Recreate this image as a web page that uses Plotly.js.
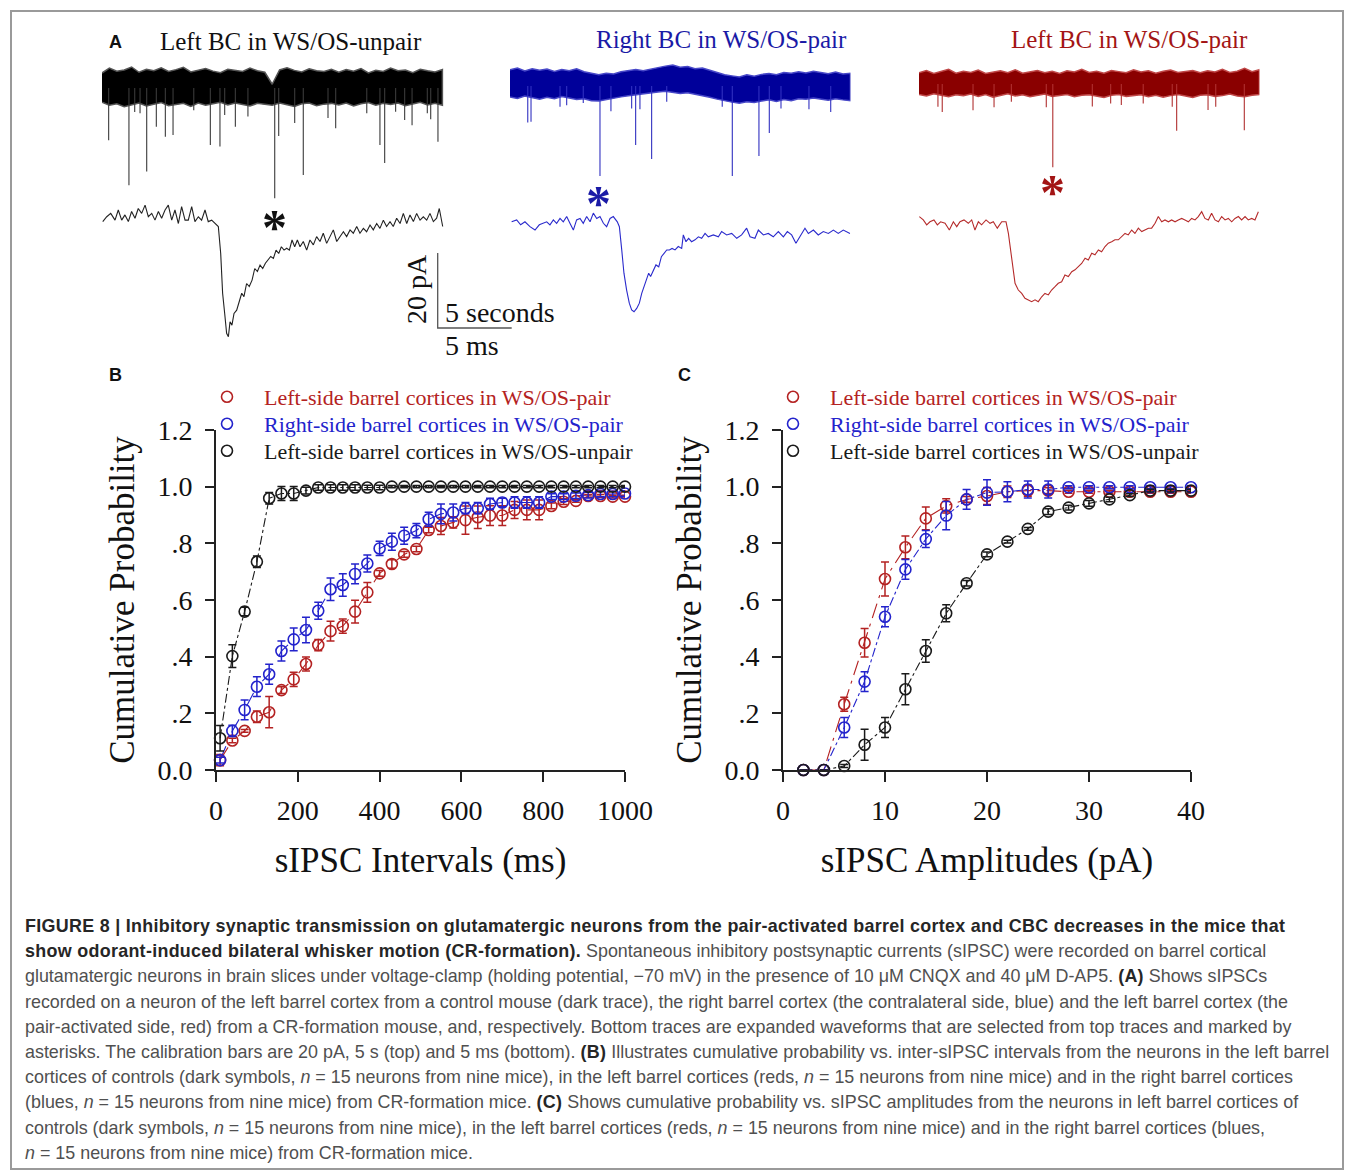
<!DOCTYPE html>
<html><head><meta charset="utf-8">
<script src="https://cdn.plot.ly/plotly-3.0.1.min.js"></script>
<style>
body{margin:0;background:#fff;}
#plot{position:absolute;left:0;top:0;width:1354px;height:900px;}
#frame{position:absolute;left:10px;top:10px;width:1334px;height:1160px;border:2px solid #9a9a9a;box-sizing:border-box;pointer-events:none;z-index:5;}
#cap{position:absolute;left:25px;top:914px;font-family:"Liberation Sans",Arial,sans-serif;font-size:17.9px;line-height:25.2px;color:#505050;white-space:nowrap;z-index:4;}
#cap b{color:#262626;letter-spacing:0.3px;}
</style></head><body>
<div id="plot"></div>
<div id="frame"></div>
<div id="cap">
<b>FIGURE 8 | Inhibitory synaptic transmission on glutamatergic neurons from the pair-activated barrel cortex and CBC decreases in the mice that</b><br>
<b>show odorant-induced bilateral whisker motion (CR-formation).</b> Spontaneous inhibitory postsynaptic currents (sIPSC) were recorded on barrel cortical<br>
glutamatergic neurons in brain slices under voltage-clamp (holding potential, −70 mV) in the presence of 10 μM CNQX and 40 μM D-AP5. <b>(A)</b> Shows sIPSCs<br>
recorded on a neuron of the left barrel cortex from a control mouse (dark trace), the right barrel cortex (the contralateral side, blue) and the left barrel cortex (the<br>
pair-activated side, red) from a CR-formation mouse, and, respectively. Bottom traces are expanded waveforms that are selected from top traces and marked by<br>
asterisks. The calibration bars are 20 pA, 5 s (top) and 5 ms (bottom). <b>(B)</b> Illustrates cumulative probability vs. inter-sIPSC intervals from the neurons in the left barrel<br>
cortices of controls (dark symbols, <i>n</i> = 15 neurons from nine mice), in the left barrel cortices (reds, <i>n</i> = 15 neurons from nine mice) and in the right barrel cortices<br>
(blues, <i>n</i> = 15 neurons from nine mice) from CR-formation mice. <b>(C)</b> Shows cumulative probability vs. sIPSC amplitudes from the neurons in left barrel cortices of<br>
controls (dark symbols, <i>n</i> = 15 neurons from nine mice), in the left barrel cortices (reds, <i>n</i> = 15 neurons from nine mice) and in the right barrel cortices (blues,<br>
<i>n</i> = 15 neurons from nine mice) from CR-formation mice.
</div>
<script>
// ---------- Panel B: cumulative probability vs sIPSC intervals ----------
const intervalsMs = [10,40,70,100,130,160,190,220,250,280,310,340,370,400,430,460,490,520,550,580,610,640,670,700,730,760,790,820,850,880,910,940,970,1000];
const probLeftPairB = [0.035,0.104,0.138,0.188,0.204,0.282,0.320,0.374,0.441,0.490,0.508,0.559,0.627,0.694,0.727,0.761,0.780,0.847,0.861,0.874,0.882,0.892,0.898,0.898,0.918,0.918,0.918,0.932,0.947,0.950,0.967,0.967,0.965,0.965];
const errLeftPairB = [0.020,0.008,0.005,0.020,0.055,0.012,0.025,0.025,0.020,0.035,0.025,0.040,0.035,0.010,0.015,0.010,0.010,0.010,0.030,0.020,0.050,0.040,0.035,0.035,0.030,0.035,0.035,0.010,0.010,0.005,0.005,0.005,0.005,0.005];
const probRightPairB = [0.035,0.138,0.212,0.294,0.338,0.420,0.461,0.494,0.562,0.638,0.653,0.692,0.729,0.782,0.806,0.827,0.845,0.885,0.904,0.909,0.924,0.924,0.939,0.944,0.944,0.944,0.944,0.965,0.965,0.968,0.970,0.974,0.974,0.976];
const errRightPairB = [0.010,0.020,0.035,0.035,0.035,0.035,0.040,0.045,0.030,0.040,0.040,0.035,0.030,0.025,0.030,0.030,0.025,0.025,0.035,0.030,0.020,0.020,0.020,0.015,0.020,0.020,0.020,0.010,0.010,0.010,0.010,0.010,0.010,0.010];
const probLeftUnpairB = [0.112,0.402,0.559,0.735,0.959,0.976,0.976,0.986,0.997,0.997,0.997,0.997,0.997,0.997,1.000,1.000,1.000,1.000,1.000,1.000,1.000,1.000,1.000,1.000,1.000,1.000,1.000,1.000,1.000,1.000,1.000,1.000,1.000,1.000];
const errLeftUnpairB = [0.045,0.040,0.015,0.020,0.020,0.025,0.025,0.012,0.010,0.010,0.010,0.010,0.008,0.008,0.004,0.004,0.004,0.004,0.004,0.004,0.004,0.004,0.004,0.004,0.004,0.004,0.004,0.004,0.004,0.004,0.004,0.004,0.004,0.004];

// ---------- Panel C: cumulative probability vs sIPSC amplitudes ----------
const amplitudesPA = [2,4,6,8,10,12,14,16,18,20,22,24,26,28,30,32,34,36,38,40];
const probLeftPairC = [0,0,0.232,0.449,0.674,0.786,0.888,0.932,0.955,0.967,0.982,0.986,0.986,0.982,0.982,0.982,0.982,0.982,0.982,0.982];
const errLeftPairC = [0,0,0.025,0.050,0.060,0.040,0.040,0.025,0.010,0.030,0.020,0.020,0.010,0.005,0.005,0.005,0.005,0.005,0.005,0.005];
const probRightPairC = [0,0,0.150,0.312,0.541,0.708,0.815,0.898,0.955,0.979,0.982,0.990,0.990,0.998,0.998,0.998,0.998,0.998,0.998,0.998];
const errRightPairC = [0,0,0.035,0.035,0.035,0.035,0.030,0.050,0.035,0.045,0.035,0.030,0.030,0.005,0.005,0.005,0.005,0.005,0.005,0.005];
const probLeftUnpairC = [0,0,0.014,0.089,0.150,0.285,0.420,0.553,0.659,0.761,0.806,0.851,0.912,0.926,0.941,0.955,0.970,0.986,0.986,0.986];
const errLeftUnpairC = [0,0,0.005,0.055,0.035,0.055,0.040,0.030,0.010,0.008,0.005,0.005,0.010,0.008,0.010,0.008,0.005,0.005,0.005,0.005];

const legendNames = ['Left-side barrel cortices in WS/OS-pair','Right-side barrel cortices in WS/OS-pair','Left-side barrel cortices in WS/OS-unpair'];
const yTickVals = [0,0.2,0.4,0.6,0.8,1.0,1.2];
const yTickText = ['0.0','.2','.4','.6','.8','1.0','1.2'];
const xTickValsB = [0,200,400,600,800,1000];
const xTickValsC = [0,10,20,30,40];

// ---------- Panel A: top traces (seconds, pA) ----------
const bandTimeS = [0,0.5,1,1.5,2,2.5,3,3.5,4,4.5,5,5.5,6,6.5,7,7.5,8,8.5,9,9.5,10,10.5,11,11.5,12,12.5,13,13.5,14,14.5,15,15.5,16,16.5,17,17.5,18,18.5,19,19.5,20,20.5,21,21.5,22,22.5,23];
const noiseUpperBlack = [4.0,5.3,4.5,4.8,5.6,4.2,5.0,4.6,5.4,4.4,4.9,5.5,4.3,4.8,5.2,4.5,4.1,5.0,4.7,4.4,5.3,4.6,4.2,1.0,4.8,5.4,4.7,4.3,5.1,4.6,4.4,5.0,4.2,4.9,4.5,5.2,4.0,4.7,4.4,5.3,4.6,4.8,4.1,5.0,4.6,4.3,4.9];
const noiseLowerBlack = [-3.8,-4.6,-4.2,-5.0,-4.4,-4.0,-4.8,-4.3,-3.9,-4.7,-4.5,-4.1,-4.9,-4.0,-4.6,-4.2,-3.8,-4.5,-4.0,-4.4,-4.8,-4.1,-4.3,-4.6,-4.0,-4.4,-4.9,-4.2,-4.0,-4.7,-4.3,-4.1,-4.5,-4.0,-4.8,-4.2,-3.9,-4.6,-4.1,-4.4,-4.0,-4.7,-4.2,-3.8,-4.5,-4.1,-4.6];
const noiseUpperBlue = [4.3,4.8,4.0,4.6,4.2,4.5,3.9,4.4,4.1,4.6,3.8,3.5,3.0,3.4,3.2,3.8,4.0,4.4,4.1,4.6,4.9,5.3,5.6,5.0,5.2,4.6,4.8,4.2,3.6,3.0,2.7,2.4,3.0,2.6,3.1,3.3,3.0,3.6,3.4,3.8,3.5,3.9,3.6,3.3,3.7,3.2,3.4];
const noiseLowerBlue = [-2.9,-3.3,-2.7,-3.1,-3.5,-3.0,-3.4,-2.8,-3.2,-3.6,-3.4,-3.9,-4.0,-3.6,-3.3,-2.9,-2.6,-2.4,-2.0,-1.8,-1.6,-1.4,-1.7,-2.0,-1.8,-2.3,-2.6,-3.0,-3.5,-4.0,-4.3,-4.6,-4.2,-4.4,-4.0,-3.7,-4.1,-3.6,-3.9,-3.4,-3.5,-3.2,-3.6,-3.8,-3.4,-3.7,-3.9];
const noiseUpperRed = [3.0,3.6,2.8,3.3,3.9,2.9,3.4,3.1,3.7,2.8,3.2,3.5,3.0,3.8,2.9,3.3,3.6,3.0,3.4,2.8,3.5,3.2,3.9,3.1,3.4,2.9,3.6,3.3,3.0,3.8,3.2,3.5,2.9,3.4,3.7,3.1,3.3,3.6,3.0,3.5,3.2,3.9,3.1,3.4,4.2,3.3,3.8];
const noiseLowerRed = [-2.8,-3.2,-2.6,-3.0,-3.4,-2.9,-3.1,-2.7,-3.3,-2.8,-3.5,-3.0,-2.6,-3.2,-2.9,-3.4,-3.0,-2.7,-3.3,-3.1,-2.8,-3.4,-3.0,-2.9,-3.2,-3.6,-3.0,-2.8,-3.3,-3.1,-2.9,-3.4,-3.0,-3.5,-3.1,-2.8,-3.2,-3.6,-3.0,-2.9,-3.3,-3.1,-2.7,-3.2,-3.4,-3.0,-2.8];
const spikeTimesBlackS = [0.45,1.82,2.21,2.57,3.02,3.67,4.28,4.80,6.20,7.32,7.97,8.29,9.01,9.86,11.67,11.94,13.02,13.60,15.27,15.79,17.89,18.78,19.10,19.84,20.45,20.95,21.98,22.21,22.70];
const spikeAmpBlackPA = [-13.9,-25.9,-6.4,-6.7,-22.3,-10.3,-13.0,-12.5,-5.9,-15.2,-15.6,-7.2,-10.3,-7.6,-29.4,-12.8,-9.3,-23.2,-8.0,-10.7,-6.7,-15.2,-20.0,-6.3,-8.5,-9.9,-6.7,-8.3,-14.3];
const spikeTimesBlueS = [1.20,1.42,3.38,3.83,4.95,6.08,6.82,8.22,8.49,8.78,9.57,10.59,14.34,15.02,16.82,17.52,18.31,20.20,21.67];
const spikeAmpBluePA = [-9.7,-9.5,-5.5,-5.1,-4.5,-24.0,-6.7,-6.0,-15.7,-6.2,-19.5,-4.2,-5.5,-24.0,-18.7,-12.5,-6.0,-6.2,-6.9];
const spikeTimesRedS = [1.28,1.57,3.65,5.07,6.24,8.60,9.04,11.71,12.95,13.67,15.15,17.11,17.41,19.53,20.05,21.98];
const spikeAmpRedPA = [-6.1,-7.5,-7.0,-6.2,-4.7,-6.2,-22.2,-6.0,-5.2,-5.6,-5.2,-6.1,-12.5,-6.9,-6.1,-12.3];

// ---------- Panel A: expanded waveforms (ms, pA) ----------
const evokedTimeBlackMs = [0.05,0.32,0.59,0.88,1.10,1.33,1.55,1.78,2.00,2.23,2.45,2.68,2.91,3.13,3.36,3.58,3.81,4.03,4.26,4.48,4.71,4.93,5.16,5.38,5.61,5.83,6.06,6.28,6.51,6.73,6.96,7.18,7.41,7.64,7.86,8.02,8.15,8.29,8.42,8.54,8.65,8.78,8.92,9.10,9.28,9.44,9.59,9.77,9.95,10.14,10.32,10.50,10.68,10.86,11.04,11.22,11.40,11.58,11.76,11.94,12.12,12.30,12.48,12.66,12.84,13.02,13.20,13.38,13.60,13.83,14.05,14.28,14.50,14.73,14.95,15.18,15.41,15.63,15.86,16.08,16.31,16.53,16.76,16.98,17.21,17.43,17.66,17.88,18.11,18.33,18.56,18.78,19.01,19.23,19.46,19.68,19.91,20.14,20.36,20.59,20.81,21.04,21.26,21.49,21.71,21.94,22.16,22.39,22.61,22.79,23.02];
const evokedBlackPA = [-2.3,-1.0,-0.1,-1.9,0.8,-1.9,-0.5,-2.3,0.4,-1.4,1.2,-0.1,2.1,-1.0,-0.1,-1.9,0.4,-1.4,0.8,2.1,-1.9,0.8,-2.8,1.7,-1.9,-1.9,1.7,-2.3,-1.0,-1.9,0.8,-2.3,-1.9,-2.8,-3.6,-10.8,-21.4,-26.8,-32.1,-33.0,-29.0,-29.9,-26.8,-25.9,-23.6,-21.4,-22.3,-18.8,-19.6,-17.9,-14.8,-15.6,-13.9,-14.8,-13.4,-12.5,-11.6,-12.1,-9.9,-10.8,-9.0,-9.9,-9.4,-9.9,-7.2,-9.0,-7.2,-9.0,-7.6,-9.9,-7.2,-8.5,-6.3,-7.6,-5.4,-8.1,-6.3,-4.5,-7.6,-6.3,-5.0,-6.3,-4.5,-5.4,-3.6,-5.4,-4.1,-5.0,-3.2,-4.5,-2.8,-4.1,-1.9,-3.6,-2.3,-3.6,-1.4,-2.8,-0.1,-2.8,-0.5,-2.3,-0.1,-1.9,-1.0,-1.9,-0.1,-2.3,-1.4,1.2,-3.6];
const evokedTimeBlueMs = [0.11,0.45,0.72,1.01,1.35,1.69,1.98,2.25,2.48,2.70,2.93,3.15,3.38,3.60,3.83,4.05,4.28,4.50,4.73,4.95,5.18,5.41,5.63,5.86,6.08,6.31,6.53,6.76,6.98,7.25,7.39,7.55,7.70,7.88,8.06,8.22,8.38,8.56,8.74,8.90,9.05,9.23,9.37,9.50,9.68,9.86,10.05,10.23,10.41,10.59,10.77,10.95,11.15,11.37,11.60,11.71,11.89,12.07,12.27,12.50,12.73,12.95,13.18,13.40,13.74,14.08,14.30,14.64,14.98,15.32,15.65,15.99,16.22,16.55,16.78,17.12,17.45,17.79,18.13,18.47,18.74,19.03,19.32,19.59,19.93,20.16,20.50,20.83,21.17,21.51,21.85,22.18,22.52,22.97];
const evokedBluePA = [0.4,0.9,-0.4,0.4,-0.9,-1.8,-0.4,0,0.4,-0.4,0.9,0,1.3,0.4,1.8,0,-1.8,0.9,1.3,0,1.8,0.4,2.7,1.3,1.8,0,-0.9,1.3,1.8,0.4,-0.9,-7.1,-13.3,-17.8,-21.3,-23.1,-23.6,-22.7,-21.3,-18.7,-16.9,-15.1,-13.3,-14.2,-12.4,-11.1,-11.6,-8.9,-8.0,-7.1,-7.1,-6.7,-7.1,-6.2,-6.7,-3.1,-4.9,-4.0,-4.9,-4.4,-3.6,-4.0,-2.7,-3.6,-3.1,-3.6,-2.2,-3.1,-2.7,-4.0,-3.1,-1.3,-3.6,-4.0,-1.8,-3.1,-2.7,-3.6,-2.2,-3.6,-2.2,-3.1,-5.3,-3.6,-1.3,-2.7,-1.8,-3.1,-2.2,-2.7,-1.8,-2.7,-1.8,-2.7];
const evokedTimeRedMs = [0.02,0.29,0.52,0.74,1.01,1.24,1.46,1.76,2.05,2.32,2.55,2.77,3.04,3.33,3.56,3.78,4.01,4.23,4.53,4.80,5.02,5.29,5.59,5.88,6.04,6.26,6.49,6.71,6.94,7.16,7.39,7.61,7.84,8.06,8.29,8.51,8.74,8.96,9.19,9.41,9.64,9.86,10.09,10.32,10.54,10.77,10.99,11.22,11.44,11.67,11.89,12.12,12.34,12.57,12.79,13.02,13.24,13.47,13.69,13.92,14.14,14.37,14.59,14.82,15.05,15.27,15.50,15.72,15.95,16.17,16.40,16.62,16.85,17.07,17.30,17.52,17.75,17.97,18.20,18.42,18.65,18.87,19.10,19.32,19.55,19.77,20.00,20.23,20.45,20.68,20.90,21.13,21.35,21.58,21.80,22.03,22.25,22.48,22.70,22.93];
const evokedRedPA = [1.8,0.9,-0.4,0.4,0.9,-0.4,0.4,0,-1.8,0.4,-0.9,0.4,0.9,0,0.9,-1.8,0.4,-0.4,0.9,0,0.4,-1.3,0.4,0.4,-2.7,-9.8,-16.0,-17.8,-18.7,-20.0,-20.4,-20.9,-20.4,-20.9,-19.6,-18.7,-19.1,-17.8,-16.9,-16.0,-15.6,-13.8,-14.2,-12.9,-12.4,-11.6,-10.7,-9.3,-9.8,-8.0,-8.4,-7.1,-7.6,-6.2,-5.3,-4.9,-4.4,-4.4,-3.6,-2.7,-3.1,-1.8,-2.7,-1.3,-2.2,-1.8,-1.3,-1.3,0,1.8,0.4,0.9,0.4,0.9,0.4,0.9,1.3,0.9,0.4,1.3,0.9,1.8,3.1,1.3,0.9,2.7,0.9,0.4,1.8,0.9,1.3,0.4,1.3,1.8,0.9,1.8,0.9,1.3,0.9,3.1];
const scaleBarPA = 20, scaleBarTime = 5;

// ---------- geometry & style ----------
const W = 1354, H = 900;
const px = v => v / W, py = v => 1 - v / H;
const SERIF = '"Liberation Serif","Times New Roman",serif';
const SANS = '"Liberation Sans",Arial,sans-serif';
const C = {red:'#b42222', blue:'#2323cc', black:'#1a1a1a'};
const PXS = 14.8, PXA = 3.75;   // px per time unit, px per pA in panel A
const A_TOP = 55, A_BOT = 345;

const traces = [];
function lineTr(x, y, color, dash, xa, ya){
  return {x, y, xaxis:xa, yaxis:ya, type:'scatter', mode:'lines', line:{color, width:1.1, dash}, showlegend:false, hoverinfo:'skip'};
}
function ptTr(x, y, err, color, name, xa, ya, leg){
  return {x, y, xaxis:xa, yaxis:ya, type:'scatter', mode:'markers', legend:leg,
    name:'<span style="color:'+color+'">'+name+'</span>',
    marker:{symbol:'circle-open', size:11, color, line:{width:1.6, color}},
    error_y:{type:'data', array:err, visible:true, color, thickness:1.5, width:4},
    cliponaxis:false, hoverinfo:'x+y'};
}
// Panel B
traces.push(lineTr(intervalsMs, probLeftPairB, C.red, 'longdash', 'x', 'y'));
traces.push(lineTr(intervalsMs, probRightPairB, C.blue, 'longdash', 'x', 'y'));
traces.push(lineTr(intervalsMs, probLeftUnpairB, C.black, 'dashdot', 'x', 'y'));
traces.push(ptTr(intervalsMs, probLeftPairB, errLeftPairB, C.red, legendNames[0], 'x', 'y', 'legend'));
traces.push(ptTr(intervalsMs, probRightPairB, errRightPairB, C.blue, legendNames[1], 'x', 'y', 'legend2'));
traces.push(ptTr(intervalsMs, probLeftUnpairB, errLeftUnpairB, C.black, legendNames[2], 'x', 'y', 'legend3'));
// Panel C
traces.push(lineTr(amplitudesPA, probLeftPairC, C.red, 'longdashdot', 'x2', 'y2'));
traces.push(lineTr(amplitudesPA, probRightPairC, C.blue, 'dashdot', 'x2', 'y2'));
traces.push(lineTr(amplitudesPA, probLeftUnpairC, C.black, 'dashdot', 'x2', 'y2'));
traces.push(ptTr(amplitudesPA, probLeftPairC, errLeftPairC, C.red, legendNames[0], 'x2', 'y2', 'legend4'));
traces.push(ptTr(amplitudesPA, probRightPairC, errRightPairC, C.blue, legendNames[1], 'x2', 'y2', 'legend5'));
traces.push(ptTr(amplitudesPA, probLeftUnpairC, errLeftUnpairC, C.black, legendNames[2], 'x2', 'y2', 'legend6'));

// Panel A
const colsA = [
  {n:'3', x0:102, span:28, zero:88, base:213, band:'#000000', edge:'#555555', spike:'#3a3a3a', wave:'#222222',
   up:noiseUpperBlack, lo:noiseLowerBlack, st:spikeTimesBlackS, sa:spikeAmpBlackPA, et:evokedTimeBlackMs, ev:evokedBlackPA},
  {n:'4', x0:510, span:23, zero:86, base:223.3, band:'#00009a', edge:'#4848c8', spike:'#3030c0', wave:'#2a2acc',
   up:noiseUpperBlue, lo:noiseLowerBlue, st:spikeTimesBlueS, sa:spikeAmpBluePA, et:evokedTimeBlueMs, ev:evokedBluePA},
  {n:'5', x0:919, span:23, zero:84, base:223.3, band:'#8a0000', edge:'#c04848', spike:'#b03030', wave:'#b52a2a',
   up:noiseUpperRed, lo:noiseLowerRed, st:spikeTimesRedS, sa:spikeAmpRedPA, et:evokedTimeRedMs, ev:evokedRedPA}
];
const layout = {
  width:W, height:H, margin:{l:0,r:0,t:0,b:0},
  paper_bgcolor:'rgba(0,0,0,0)', plot_bgcolor:'rgba(0,0,0,0)',
  font:{family:SERIF, color:'#111'}, showlegend:true, hovermode:'closest',
  annotations:[]
};
colsA.forEach(c => {
  const xa = 'x'+c.n, ya = 'y'+c.n;
  layout['xaxis'+c.n] = {domain:[px(c.x0), px(c.x0 + c.span*PXS)], range:[0, c.span], visible:false, anchor:ya, fixedrange:true};
  layout['yaxis'+c.n] = {domain:[py(A_BOT), py(A_TOP)], range:[-(A_BOT-c.zero)/PXA, (c.zero-A_TOP)/PXA], visible:false, anchor:xa, fixedrange:true};
  // noise band
  traces.push({x:bandTimeS.concat(bandTimeS.slice().reverse()), y:c.up.concat(c.lo.slice().reverse()),
    xaxis:xa, yaxis:ya, type:'scatter', mode:'lines', fill:'toself', fillcolor:c.band,
    line:{color:c.edge, width:1.5}, showlegend:false, hoverinfo:'skip'});
  // spikes
  const sx = [], sy = [];
  c.st.forEach((t, i) => { sx.push(t, t, null); sy.push(0, c.sa[i], null); });
  traces.push({x:sx, y:sy, xaxis:xa, yaxis:ya, type:'scatter', mode:'lines', line:{color:c.spike, width:1.1}, showlegend:false, hoverinfo:'skip', connectgaps:false});
  // expanded waveform
  const off = -(c.base - c.zero)/PXA;
  traces.push({x:c.et, y:c.ev.map(v => v + off), xaxis:xa, yaxis:ya, type:'scatter', mode:'lines',
    line:{color:c.wave, width:1.1}, showlegend:false, hoverinfo:'skip'});
});
// calibration bar on black column
{
  const bx = (437.7-102)/PXS, by = -(328-88)/PXA;
  traces.push({x:[bx, bx, bx+scaleBarTime], y:[by+scaleBarPA, by, by], xaxis:'x3', yaxis:'y3', type:'scatter', mode:'lines',
    line:{color:'#555', width:1.3}, showlegend:false, hoverinfo:'skip'});
}

function axisY(anchor){
  return {domain:[py(770), py(430)], range:[0,1.2], anchor, tickvals:yTickVals, ticktext:yTickText,
    ticks:'outside', ticklen:9, tickwidth:1.5, tickcolor:'#222', showline:true, linewidth:1.6, linecolor:'#222',
    showgrid:false, zeroline:false, tickfont:{family:SERIF, size:28, color:'#111'}, ticklabelstandoff:7,
    title:{text:'Cumulative Probability', font:{family:SERIF, size:35, color:'#111'}, standoff:12}, fixedrange:true};
}
function axisX(domain, range, tickvals, title, anchor){
  return {domain, range, anchor, tickvals, ticks:'outside', ticklen:10, tickwidth:1.5, tickcolor:'#222',
    showline:true, linewidth:1.6, linecolor:'#222', showgrid:false, zeroline:false,
    tickfont:{family:SERIF, size:28, color:'#111'}, ticklabelstandoff:5,
    title:{text:title, font:{family:SERIF, size:35, color:'#111'}, standoff:22}, fixedrange:true};
}
layout.xaxis = axisX([px(216), px(625)], [0,1000], xTickValsB, 'sIPSC Intervals (ms)', 'y');
layout.yaxis = axisY('x');
layout.xaxis2 = axisX([px(783), px(1191)], [0,40], xTickValsC, 'sIPSC Amplitudes (pA)', 'y2');
layout.yaxis2 = axisY('x2');

// one single-entry legend per row, so the rows keep the reference spacing
const legBase = {yanchor:'middle', xanchor:'left', font:{family:SERIF, size:22, color:'#111'}, itemwidth:64,
  bgcolor:'rgba(0,0,0,0)', borderwidth:0, tracegroupgap:0, itemclick:false, itemdoubleclick:false};
const legendRowsPx = [397, 424, 451];
['legend','legend2','legend3'].forEach((k, i) => { layout[k] = Object.assign({x:px(190), y:py(legendRowsPx[i])}, legBase); });
['legend4','legend5','legend6'].forEach((k, i) => { layout[k] = Object.assign({x:px(756), y:py(legendRowsPx[i])}, legBase); });

function ann(text, x, y, size, color, extra){
  return Object.assign({text, x:px(x), y:py(y), xref:'paper', yref:'paper', showarrow:false,
    font:{family:SERIF, size, color}, xanchor:'center', yanchor:'middle'}, extra || {});
}
layout.annotations.push(
  ann('<b>A</b>', 115, 42, 18, '#111', {font:{family:SANS, size:18, color:'#111'}}),
  ann('<b>B</b>', 115, 375, 18, '#111', {font:{family:SANS, size:18, color:'#111'}}),
  ann('<b>C</b>', 684, 375, 18, '#111', {font:{family:SANS, size:18, color:'#111'}}),
  ann('Left BC in WS/OS-unpair', 291, 42, 25, '#111'),
  ann('Right BC in WS/OS-pair', 721, 40, 25, '#1a1aa6'),
  ann('Left BC in WS/OS-pair', 1129, 40, 25, '#a31515'),
  ann('<b>*</b>', 274, 227, 50, '#111'),
  ann('<b>*</b>', 598, 203, 50, '#1a1aa6'),
  ann('<b>*</b>', 1052, 192, 50, '#a31515'),
  ann('20 pA', 416, 289, 28, '#111', {textangle:-90}),
  ann('5 seconds', 443, 313, 28, '#111', {xanchor:'left'}),
  ann('5 ms', 443, 345, 28, '#111', {xanchor:'left'})
);

Plotly.newPlot('plot', traces, layout, {displayModeBar:false, staticPlot:false, responsive:false});
</script>
</body></html>
